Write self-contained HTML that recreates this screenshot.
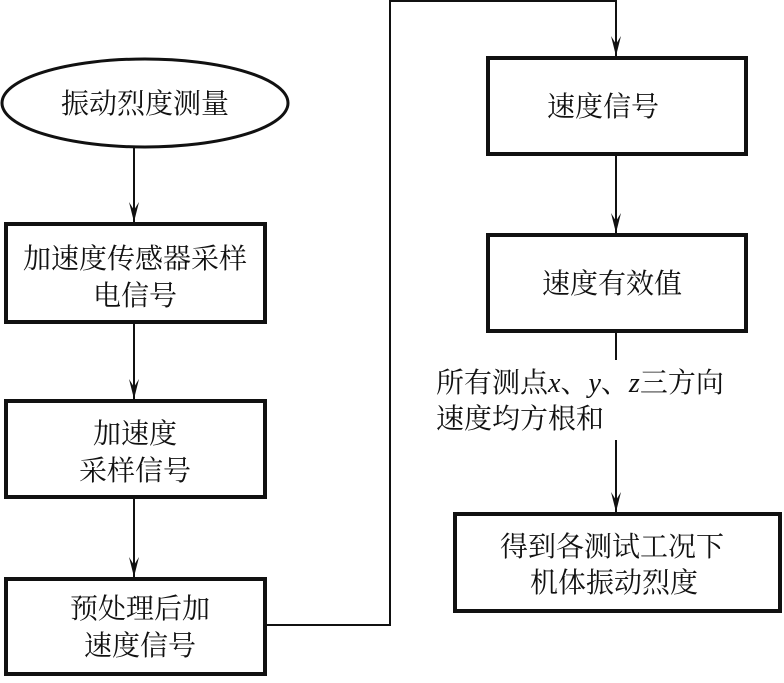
<!DOCTYPE html>
<html><head><meta charset="utf-8"><style>
body{margin:0;background:#fff}
svg text{font-family:"Liberation Serif","Noto Serif CJK SC",serif;font-size:28px;fill:#111}
</style></head><body>
<svg width="784" height="678" viewBox="0 0 784 678" xmlns="http://www.w3.org/2000/svg">
<defs><marker id="a" markerWidth="10" markerHeight="20" refX="5" refY="20" orient="auto" markerUnits="userSpaceOnUse"><path d="M0,0 L5,20 L10,0 L5,8 Z" fill="#111"/></marker>
<marker id="b" viewBox="0 0 10 20" markerWidth="10" markerHeight="20" refX="5" refY="20" orient="0" markerUnits="userSpaceOnUse"><path d="M0,0 L5,20 L10,0 L5,8 Z" fill="#111"/></marker></defs>
<g fill="none" stroke="#111">
<ellipse cx="145" cy="103" rx="143" ry="44" stroke-width="3"/>
<rect x="6" y="224" width="259" height="98" stroke-width="4"/>
<rect x="6" y="401" width="259" height="96" stroke-width="4"/>
<rect x="6" y="579" width="259" height="95" stroke-width="4"/>
<rect x="488" y="58" width="258" height="96" stroke-width="4"/>
<rect x="488" y="235" width="258" height="96" stroke-width="4"/>
<rect x="455" y="514" width="325" height="97" stroke-width="4"/>
<g stroke-width="2">
<line x1="134" y1="147" x2="134" y2="222" marker-end="url(#b)"/>
<line x1="134" y1="323" x2="134" y2="399" marker-end="url(#b)"/>
<line x1="134" y1="498" x2="134" y2="577" marker-end="url(#b)"/>
<polyline points="265,625 390,625 390,1 616,1 616,56"/>
<line x1="616" y1="36" x2="616" y2="56" marker-end="url(#b)"/>
<line x1="616" y1="155" x2="616" y2="233" marker-end="url(#b)"/>
<line x1="616" y1="332" x2="616" y2="360"/>
<line x1="616" y1="440" x2="616" y2="512" marker-end="url(#b)"/>
</g></g>
<text x="145" y="113" text-anchor="middle">振动烈度测量</text>
<text x="135" y="268" text-anchor="middle">加速度传感器采样</text>
<text x="135" y="305" text-anchor="middle">电信号</text>
<text x="135" y="443" text-anchor="middle">加速度</text>
<text x="135" y="480" text-anchor="middle">采样信号</text>
<text x="140" y="618" text-anchor="middle">预处理后加</text>
<text x="140" y="655" text-anchor="middle">速度信号</text>
<text x="603" y="116" text-anchor="middle">速度信号</text>
<text x="612" y="293" text-anchor="middle">速度有效值</text>
<text x="436" y="392">所有测点<tspan font-style="italic">x</tspan>、<tspan font-style="italic">y</tspan>、<tspan font-style="italic">z</tspan>三方向</text>
<text x="436" y="428">速度均方根和</text>
<text x="500" y="556">得到各测试工况下</text>
<text x="530" y="592">机体振动烈度</text>
</svg>
</body></html>
